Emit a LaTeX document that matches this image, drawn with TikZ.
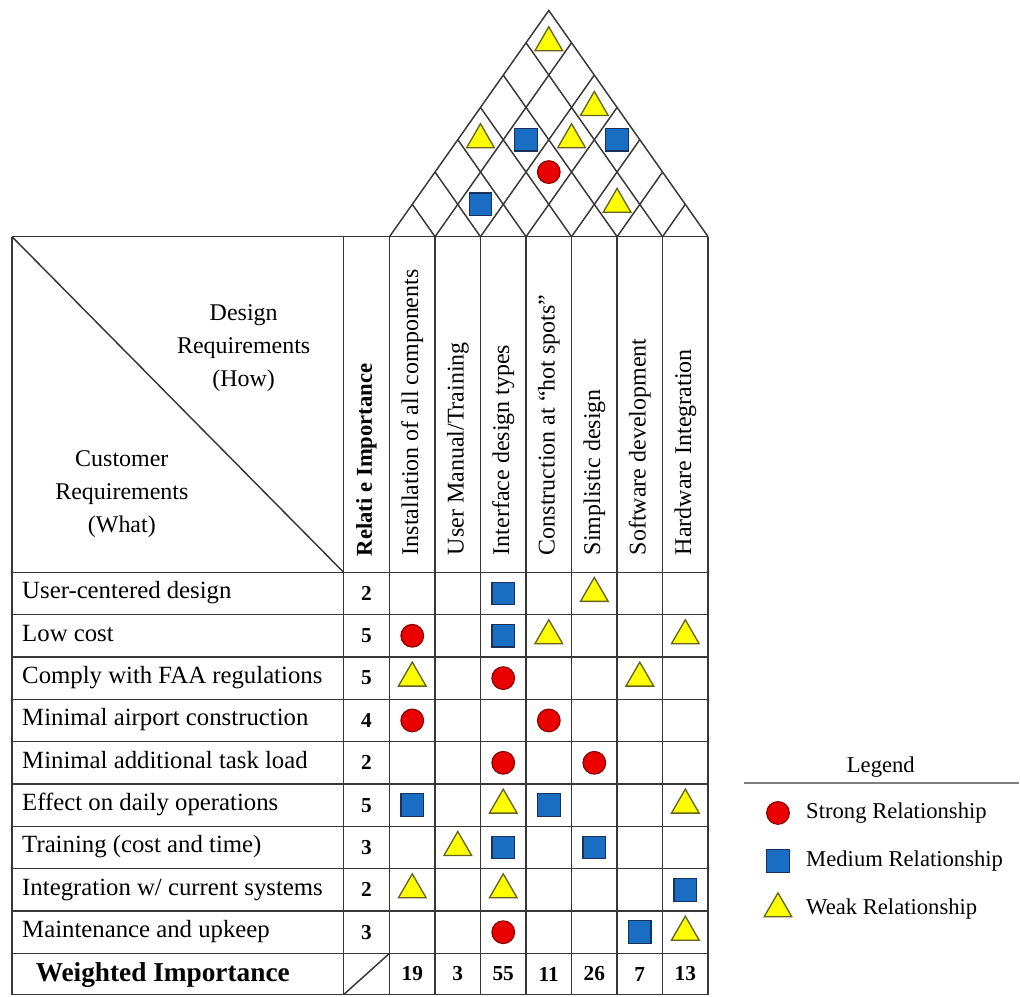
\documentclass[tikz,border=0pt]{standalone}
\usepackage{fontspec}
\setmainfont{Liberation Serif}
\usetikzlibrary{shapes.geometric}

\definecolor{gridline}{RGB}{55,55,55}
\definecolor{strongfill}{RGB}{235,0,0}
\definecolor{strongedge}{RGB}{140,0,0}
\definecolor{mediumfill}{RGB}{25,110,195}
\definecolor{mediumedge}{RGB}{25,50,90}
\definecolor{weakfill}{RGB}{255,255,0}
\definecolor{weakedge}{RGB}{100,100,30}

\tikzset{
  grid/.style={draw=gridline, line width=1.1pt},
  strong/.style={circle, draw=strongedge, fill=strongfill, line width=0.9pt, inner sep=0pt, minimum size=17pt},
  medium/.style={rectangle, draw=mediumedge, fill=mediumfill, line width=0.9pt, inner sep=0pt, minimum size=17pt},
  weak/.style={regular polygon, regular polygon sides=3, draw=weakedge, fill=weakfill, line width=1pt, inner sep=0pt, minimum size=24pt},
  whattext/.style={anchor=base west, inner sep=0.75pt, font=\fontsize{18.6}{22}\selectfont},
  howtext/.style={anchor=west, rotate=90, inner sep=0.75pt, font=\fontsize{18}{22}\selectfont},
  numtext/.style={inner sep=0.75pt, font=\fontsize{16}{20}\selectfont\bfseries},
  legendtext/.style={anchor=west, inner sep=0.75pt, font=\fontsize{17}{21}\selectfont}
}

\begin{document}
\begin{tikzpicture}[x=0.75pt,y=0.75pt,yscale=-1,xscale=1]
	\path (0,0) rectangle (1020,998); %set diagram to the size of the reference
	
	%Roof outline
	\draw [grid] (390,237) -- (549.5,10.5) -- (709,237) ;
	%Roof lines rising to the right
	\draw [grid] (435.6,237) -- (572.3,42.8) ;
	\draw [grid] (481.1,237) -- (595.1,75.2) ;
	\draw [grid] (526.7,237) -- (617.9,107.6) ;
	\draw [grid] (572.3,237) -- (640.6,139.9) ;
	\draw [grid] (617.9,237) -- (663.4,172.3) ;
	\draw [grid] (663.4,237) -- (686.2,204.6) ;
	%Roof lines rising to the left
	\draw [grid] (435.6,237) -- (412.8,204.6) ;
	\draw [grid] (481.1,237) -- (435.6,172.3) ;
	\draw [grid] (526.7,237) -- (458.4,139.9) ;
	\draw [grid] (572.3,237) -- (481.1,107.6) ;
	\draw [grid] (617.9,237) -- (503.9,75.2) ;
	\draw [grid] (663.4,237) -- (526.7,42.8) ;
	
	%Horizontal lines
	\draw [grid] (12,237) -- (709,237) ;
	\draw [grid] (12,573) -- (709,573) ;
	\draw [grid] (12,615.4) -- (709,615.4) ;
	\draw [grid] (12,657.8) -- (709,657.8) ;
	\draw [grid] (12,700.2) -- (709,700.2) ;
	\draw [grid] (12,742.6) -- (709,742.6) ;
	\draw [grid] (12,785) -- (709,785) ;
	\draw [grid] (12,827.4) -- (709,827.4) ;
	\draw [grid] (12,869.8) -- (709,869.8) ;
	\draw [grid] (12,912.2) -- (709,912.2) ;
	\draw [grid] (12,954.6) -- (709,954.6) ;
	\draw [grid] (12,996) -- (709,996) ;
	%Vertical lines
	\draw [grid] (12,237) -- (12,996) ;
	\draw [grid] (344,237) -- (344,996) ;
	\draw [grid] (390,237) -- (390,996) ;
	\draw [grid] (435.6,237) -- (435.6,996) ;
	\draw [grid] (481.1,237) -- (481.1,996) ;
	\draw [grid] (526.7,237) -- (526.7,996) ;
	\draw [grid] (572.3,237) -- (572.3,996) ;
	\draw [grid] (617.9,237) -- (617.9,996) ;
	\draw [grid] (663.4,237) -- (663.4,996) ;
	\draw [grid] (709,237) -- (709,996) ;
	%Diagonals of the corner cells
	\draw [grid] (12,237) -- (344,573) ;
	\draw [grid] (344,996) -- (390,954.6) ;
	
	% Roof correlations
	\node [weak] (roof17) at (549.5,42.8) {};
	\node [weak] (roof37) at (595.1,107.6) {};
	\node [weak] (roof14) at (481.1,139.9) {};
	\node [medium] (roof25) at (526.7,139.9) {};
	\node [weak] (roof36) at (572.3,139.9) {};
	\node [medium] (roof47) at (617.9,139.9) {};
	\node [strong] (roof35) at (549.5,172.3) {};
	\node [medium] (roof23) at (481.1,204.6) {};
	\node [weak] (roof56) at (617.9,204.6) {};
	
	% Header texts
	\node [align=center, inner sep=0.75pt, font=\fontsize{18}{24.75}\selectfont] (how) at (244,349) {Design\\Requirements\\(How)};
	\node [align=center, inner sep=0.75pt, font=\fontsize{18}{24.75}\selectfont] (what) at (122,495) {Customer\\Requirements\\(What)};
	\node [howtext, font=\fontsize{17}{21}\selectfont\bfseries] (relimp) at (367,558) {Relati e Importance};
	\node [howtext] (how1) at (412.8,557) {Installation of all components};
	\node [howtext] (how2) at (458.4,557) {User Manual/Training};
	\node [howtext] (how3) at (503.9,557) {Interface design types};
	\node [howtext] (how4) at (549.5,557) {Construction at “hot spots”};
	\node [howtext] (how5) at (595.1,557) {Simplistic design};
	\node [howtext] (how6) at (640.6,557) {Software development};
	\node [howtext] (how7) at (686.2,557) {Hardware Integration};
	
	% Customer requirements and their importance
	\node [whattext] (what1) at (21,599.7) {User-centered design};
	\node [numtext] (imp1) at (367,594.2) {2};
	\node [whattext] (what2) at (21,642.1) {Low cost};
	\node [numtext] (imp2) at (367,636.6) {5};
	\node [whattext] (what3) at (21,684.5) {Comply with FAA regulations};
	\node [numtext] (imp3) at (367,679) {5};
	\node [whattext] (what4) at (21,726.9) {Minimal airport construction};
	\node [numtext] (imp4) at (367,721.4) {4};
	\node [whattext] (what5) at (21,769.3) {Minimal additional task load};
	\node [numtext] (imp5) at (367,763.8) {2};
	\node [whattext] (what6) at (21,811.7) {Effect on daily operations};
	\node [numtext] (imp6) at (367,806.2) {5};
	\node [whattext] (what7) at (21,854.1) {Training (cost and time)};
	\node [numtext] (imp7) at (367,848.6) {3};
	\node [whattext] (what8) at (21,896.5) {Integration w/ current systems};
	\node [numtext] (imp8) at (367,891) {2};
	\node [whattext] (what9) at (21,938.9) {Maintenance and upkeep};
	\node [numtext] (imp9) at (367,933.4) {3};
	
	% Relationship matrix
	\node [medium] (rel13) at (503.9,594.2) {};
	\node [weak] (rel15) at (595.1,594.2) {};
	\node [strong] (rel21) at (412.8,636.6) {};
	\node [medium] (rel23) at (503.9,636.6) {};
	\node [weak] (rel24) at (549.5,636.6) {};
	\node [weak] (rel27) at (686.2,636.6) {};
	\node [weak] (rel31) at (412.8,679) {};
	\node [strong] (rel33) at (503.9,679) {};
	\node [weak] (rel36) at (640.6,679) {};
	\node [strong] (rel41) at (412.8,721.4) {};
	\node [strong] (rel44) at (549.5,721.4) {};
	\node [strong] (rel53) at (503.9,763.8) {};
	\node [strong] (rel55) at (595.1,763.8) {};
	\node [medium] (rel61) at (412.8,806.2) {};
	\node [weak] (rel63) at (503.9,806.2) {};
	\node [medium] (rel64) at (549.5,806.2) {};
	\node [weak] (rel67) at (686.2,806.2) {};
	\node [weak] (rel72) at (458.4,848.6) {};
	\node [medium] (rel73) at (503.9,848.6) {};
	\node [medium] (rel75) at (595.1,848.6) {};
	\node [weak] (rel81) at (412.8,891) {};
	\node [weak] (rel83) at (503.9,891) {};
	\node [medium] (rel87) at (686.2,891) {};
	\node [strong] (rel93) at (503.9,933.4) {};
	\node [medium] (rel96) at (640.6,933.4) {};
	\node [weak] (rel97) at (686.2,933.4) {};
	
	% Weighted importance
	\node [inner sep=0.75pt, font=\fontsize{20.5}{24}\selectfont\bfseries] (weighted) at (163,976) {Weighted Importance};
	\node [numtext] (w1) at (412.8,975.3) {19};
	\node [numtext] (w2) at (458.4,975.3) {3};
	\node [numtext] (w3) at (503.9,975.3) {55};
	\node [numtext] (w4) at (549.5,975.3) {11};
	\node [numtext] (w5) at (595.1,975.3) {26};
	\node [numtext] (w6) at (640.6,975.3) {7};
	\node [numtext] (w7) at (686.2,975.3) {13};
	
	% Legend
	\node [inner sep=0.75pt, font=\fontsize{17}{21}\selectfont] (legend) at (882,768) {Legend};
	\draw [draw=gray, line width=2pt] (745,784) -- (1020,784) ;
	\node [strong] (keystrong) at (779,814) {};
	\node [legendtext] (strongtext) at (806,814) {Strong Relationship};
	\node [medium] (keymedium) at (779,862) {};
	\node [legendtext] (mediumtext) at (806,862) {Medium Relationship};
	\node [weak] (keyweak) at (779,910) {};
	\node [legendtext] (weaktext) at (806,910) {Weak Relationship};
	
\end{tikzpicture}
\end{document}
